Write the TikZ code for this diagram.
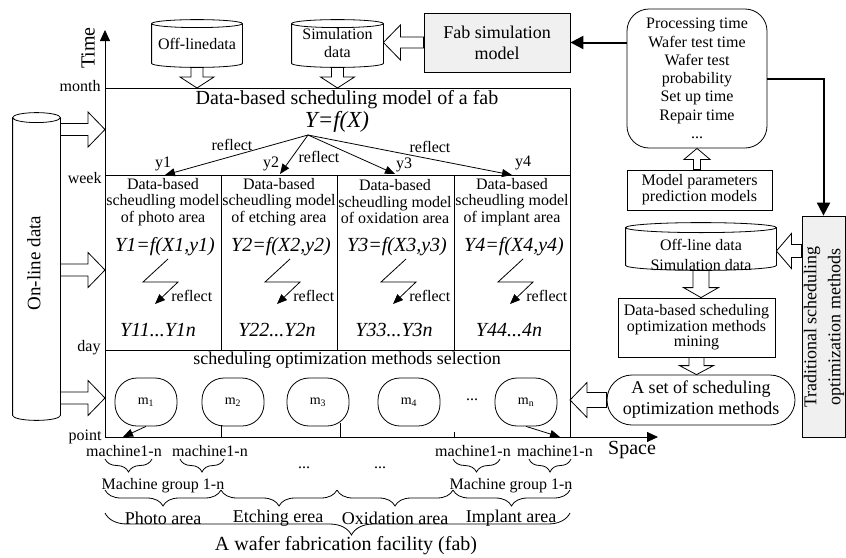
\documentclass[tikz,border=0pt]{standalone}
\usepackage{fontspec}
\setmainfont{Liberation Serif}
\usetikzlibrary{calc,arrows.meta,decorations.pathreplacing}

\newcommand\fsz[2]{\fontsize{#1}{#2}\selectfont}

% open (hollow) block arrow from #1 to #2:
% shaft half-width #3, head half-width #4, head length #5
\newcommand\blockarrow[5]{%
  \draw[line join=miter, fill=white]
    ($(#1)!#3!90:(#2)$)
    -- ($(#2)!#5!(#1)!#3!-90:(#1)$)
    -- ($(#2)!#5!(#1)!#4!-90:(#1)$)
    -- (#2)
    -- ($(#2)!#5!(#1)!#4!90:(#1)$)
    -- ($(#2)!#5!(#1)!#3!90:(#1)$)
    -- ($(#1)!#3!-90:(#2)$) -- cycle;}

% database cylinder drawn round the box of node #1, cap half-height #2
\newcommand\cylout[2]{%
  \draw let \p1=(#1.north west), \p2=(#1.south east), \n1={(\x2-\x1)/2} in
    (\x1,\y1-#2) -- (\x1,\y2+#2)
    arc[start angle=180, end angle=360, x radius={\n1*1pt}, y radius=#2]
    -- (\x2,\y1-#2)
    arc[start angle=0, end angle=180, x radius={\n1*1pt}, y radius=#2]
    arc[start angle=180, end angle=360, x radius={\n1*1pt}, y radius=#2];}

\begin{document}
\begin{tikzpicture}[x=1pt, y=-1pt, line width=0.8pt,
  every node/.style={inner sep=0pt, align=center, font=\fsz{16}{17}},
  arr/.style={-{Triangle[length=10pt,width=8pt]}},
  axisarr/.style={-{Triangle[length=11pt,width=10pt]}},
  thickarr/.style={line width=2pt,-{Triangle[length=13pt,width=13pt]}},
  greybox/.style={draw, fill=gray!12},
  plainbox/.style={draw},
  mbox/.style={draw, rounded corners=22pt, minimum width=62pt,
    minimum height=48pt, font=\fsz{14}{14}},
  br/.style={decorate, decoration={brace, amplitude=#1}},
  formula/.style={font=\fsz{20}{22}\itshape}]

\useasboundingbox (0,0) rectangle (846,557);

% ---------- time/space frame ----------
\coordinate (O) at (105,437);
\coordinate (fNW) at (105,88);
\coordinate (fNE) at (570,88);
\coordinate (fSE) at (570,437);
\coordinate (timeTop) at (105,30);
\coordinate (spaceEnd) at (658,437);
\draw (fNW) -- (fNE) -- (fSE);
\draw (105,175) -- (570,175);
\draw (105,350) -- (570,350);
\foreach \x in {221,337,454} \draw (\x,175) -- (\x,350);
\draw[axisarr] (O) -- (timeTop);
\draw[axisarr] (O) -- (spaceEnd);

\node[rotate=90, font=\fsz{20}{22}] (timelbl) at (88,48) {Time};
\node[font=\fsz{20}{22}] (spacelbl) at (632,450) {Space};
\node[anchor=east] (month) at (101,86) {month};
\node[anchor=east] (week) at (102,178) {week};
\node[anchor=east] (day) at (101,348) {day};
\node[anchor=east] (point) at (102,437) {point};

% ---------- fab level model ----------
\node[font=\fsz{20}{22}] (title) at (347,100) {Data-based scheduling model of a fab};
\node[font=\fsz{23}{24}\itshape] (fabf) at (337,122) {Y=f(X)};
\coordinate (src) at (308,135);
\coordinate (y1t) at (165,175);
\coordinate (y2t) at (280,174);
\coordinate (y3t) at (395,174);
\coordinate (y4t) at (512,175);
\foreach \k in {1,2,3,4} \draw[arr] (src) -- (y\k t);
\node (y1) at (163,164) {y1};
\node (y2) at (271,164) {y2};
\node (y3) at (404,165) {y3};
\node (y4) at (523,163) {y4};
\node (rfa) at (232,145) {reflect};
\node (rfb) at (319,157) {reflect};
\node (rfc) at (430,147) {reflect};

% ---------- area level models ----------
\node[font=\fsz{16}{16.5}] (c1) at (163,202) {Data-based\\scheudling model\\of photo area};
\node[font=\fsz{16}{16.5}] (c2) at (279,202) {Data-based\\scheudling model\\of etching area};
\node[font=\fsz{16}{16.5}] (c3) at (395,202) {Data-based\\scheudling model\\of oxidation area};
\node[font=\fsz{16}{16.5}] (c4) at (512,202) {Data-based\\scheudling model\\of implant area};

\node[formula] (f1) at (165,247) {Y1=f(X1,y1)};
\node[formula] (f2) at (281,247) {Y2=f(X2,y2)};
\node[formula] (f3) at (397,247) {Y3=f(X3,y3)};
\node[formula] (f4) at (514,247) {Y4=f(X4,y4)};

\foreach \i/\bx in {1/157,2/279,3/395,4/512}{
  \coordinate (zs\i) at (\bx+11,259);
  \coordinate (zt\i) at (\bx-2,304);
  \draw[arr, line join=miter] (zs\i) -- (\bx-14,282) -- (\bx+21,282) -- (zt\i);
  \node[anchor=west] (rz\i) at (\bx+14,296) {reflect};
}

\node[formula] (g1) at (158,330) {Y11...Y1n};
\node[formula] (g2) at (277,330) {Y22...Y2n};
\node[formula] (g3) at (394,330) {Y33...Y3n};
\node[formula] (g4) at (509,330) {Y44...4n};

% ---------- method selection ----------
\node[font=\fsz{18}{20}] (sel) at (347,360) {scheduling optimization methods selection};
\node[mbox] (m1) at (146,402) {m\textsubscript{1}};
\node[mbox] (m2) at (233,402) {m\textsubscript{2}};
\node[mbox] (m3) at (318,402) {m\textsubscript{3}};
\node[mbox] (m4) at (409,402) {m\textsubscript{4}};
\node[mbox] (mn) at (526,402) {m\textsubscript{n}};
\node (mdots) at (472,400) {...};
\draw (221,425) -- (221,437);
\draw (340,423) -- (340,437);
\draw (454,432) -- (454,437);
\coordinate (pt1) at (123,437);
\coordinate (ptn) at (560,437);
\draw[arr] (m1.south) -- (pt1);
\draw[arr] (mn.south) -- (ptn);

% ---------- machines and areas ----------
\node (ma1) at (124,451) {machine1-n};
\node (ma2) at (210,451) {machine1-n};
\node (ma3) at (473,451) {machine1-n};
\node (ma4) at (555,451) {machine1-n};
\draw[br=13pt] (152,459) -- (105,459);
\draw[br=13pt] (224,459) -- (180,459);
\draw[br=13pt] (500,459) -- (453,459);
\draw[br=13pt] (571,459) -- (529,459);
\node (dots1) at (304,468) {...};
\node (dots2) at (380,468) {...};
\node (mg1) at (163,486) {Machine group 1-n};
\node (mg2) at (511,486) {Machine group 1-n};
\draw[br=16pt] (221,490) -- (105,490);
\draw[br=16pt] (337,490) -- (221,490);
\draw[br=16pt] (453,490) -- (337,490);
\draw[br=16pt] (570,490) -- (453,490);
\node[font=\fsz{18}{20}] (a1) at (163,518) {Photo area};
\node[font=\fsz{18}{20}] (a2) at (278,518) {Etching erea};
\node[font=\fsz{18}{20}] (a3) at (395,518) {Oxidation area};
\node[font=\fsz{18}{20}] (a4) at (511,518) {Implant area};
\draw[decorate, decoration={brace, amplitude=22pt, aspect=0.47}] (570,513) -- (105,513);
\node[font=\fsz{20}{22}] (facility) at (346,546) {A wafer fabrication facility (fab)};

% ---------- data sources on top ----------
\node[minimum width=90pt, minimum height=47pt] (offdata) at (197,43.5) {Off-linedata};
\cylout{offdata}{4pt}
\node[minimum width=91pt, minimum height=47pt, font=\fsz{16}{18}] (simdata) at (337.5,43.5) {Simulation\\data};
\cylout{simdata}{4pt}
\coordinate (offin) at (offdata.south |- fNW);
\coordinate (simin) at (simdata.south |- fNW);
\blockarrow{offdata.south}{offin}{6pt}{17pt}{11pt}
\blockarrow{simdata.south}{simin}{6pt}{17pt}{11pt}

\node[greybox, minimum width=146pt, minimum height=59pt, font=\fsz{18}{21}] (fabsim) at (497,42.5) {Fab simulation\\model};
\coordinate (simside) at (simdata.east |- fabsim.west);
\blockarrow{fabsim.west}{simside}{5.5pt}{17.5pt}{17pt}

% ---------- on-line data ----------
\node[minimum width=47pt, minimum height=307pt] (online) at (36.5,266.5) {};
\cylout{online}{5pt}
\node[rotate=90, font=\fsz{19}{20}] (onlinetxt) at (34,263) {On-line data};
\foreach \k/\yy in {1/129.5,2/270,3/398}{
  \coordinate (onin\k) at (105,\yy);
  \coordinate (onout\k) at (online.east |- onin\k);
  \blockarrow{onout\k}{onin\k}{6pt}{17.5pt}{17pt}
}

% ---------- right hand side ----------
\node[draw, rounded corners=22pt, minimum width=140pt, minimum height=139pt, font=\fsz{16}{18.3}] (params) at (697,78.5)
  {Processing time\\Wafer test time\\Wafer test\\probability\\Set up time\\Repair time\\...};
\draw[thickarr] (params.west |- fabsim.east) -- (fabsim.east);

\node[plainbox, minimum width=145pt, minimum height=40pt, font=\fsz{16}{16}] (predict) at (699.5,190) {Model parameters\\prediction models};
\coordinate (predtop) at (params.south |- predict.north);
\blockarrow{predtop}{params.south}{3.5pt}{13pt}{11pt}

\node[greybox, minimum width=43pt, minimum height=221pt] (trad) at (823.5,326.5) {};
\node[rotate=90, font=\fsz{18}{24}] (tradtxt) at (824,327) {Traditional scheduling\\optimization methods};
\draw[thickarr] (params.east) -| (trad.north);

\node[minimum width=150pt, minimum height=47pt] (offsim) at (701,246.5) {};
\cylout{offsim}{5pt}
\node[font=\fsz{16}{20}] (offsimtxt) at (701,255) {Off-line data\\Simulation data};
\coordinate (tradout) at (trad.west |- 0,251);
\coordinate (offsimin) at (offsim.east |- 0,251);
\blockarrow{tradout}{offsimin}{6.5pt}{17.5pt}{15pt}

\node[plainbox, minimum width=157pt, minimum height=59pt, font=\fsz{16}{15.5}] (mining) at (696.5,327.5)
  {Data-based scheduling\\optimization methods\\mining};
\coordinate (mintop) at (offsim.south |- mining.north);
\blockarrow{offsim.south}{mintop}{8pt}{17.5pt}{10pt}

\node[draw, rounded corners=25pt, minimum width=188pt, minimum height=50pt, font=\fsz{18}{21}] (methods) at (701,400)
  {A set of scheduling\\optimization methods};
\coordinate (methtop) at (mining.south |- methods.north);
\blockarrow{mining.south}{methtop}{7.5pt}{17pt}{9pt}
\coordinate (frin) at (570,400);
\blockarrow{methods.west}{frin}{7.5pt}{17.5pt}{17pt}

\end{tikzpicture}
\end{document}
